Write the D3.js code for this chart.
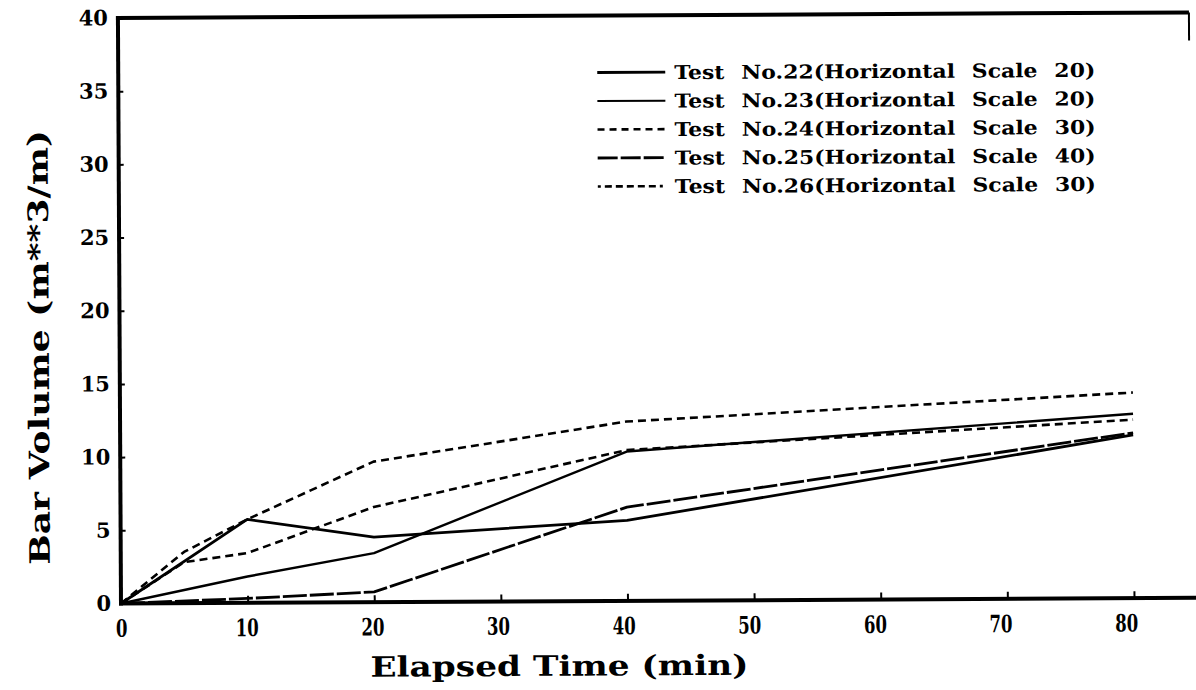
<!DOCTYPE html>
<html>
<head>
<meta charset="utf-8">
<script src="https://cdn.jsdelivr.net/npm/d3@7"></script>
<style>
  html, body { margin: 0; padding: 0; background: #fff; }
  svg { display: block; }
  text { font-family: "DejaVu Serif", serif; font-weight: bold; fill: #000; }
</style>
</head>
<body>
<svg id="chart" width="1196" height="690"></svg>
<script>
// Elapsed time (min) and bar volume (m^3/m) for each test run
const seriesNames = [
  "Test No.22(Horizontal Scale 20)",
  "Test No.23(Horizontal Scale 20)",
  "Test No.24(Horizontal Scale 30)",
  "Test No.25(Horizontal Scale 40)",
  "Test No.26(Horizontal Scale 30)"
];
const time22 = [0, 10, 20, 40, 80];
const vol22  = [0, 5.7, 4.45, 5.5, 11.15];
const time23 = [0, 10, 20, 40, 80];
const vol23  = [0, 1.8, 3.35, 10.2, 12.6];
const time24 = [0, 5, 10, 20, 40, 80];
const vol24  = [0, 3.5, 5.7, 9.6, 12.25, 14.05];
const time25 = [0, 10, 20, 40, 80];
const vol25  = [0, 0.3, 0.7, 6.4, 11.3];
const time26 = [0, 5, 10, 20, 40, 80];
const vol26  = [0, 2.8, 3.4, 6.5, 10.3, 12.2];

const xTicks = [0, 10, 20, 30, 40, 50, 60, 70, 80];
const yTicks = [0, 5, 10, 15, 20, 25, 30, 35, 40];

const svg = d3.select("#chart");

const x = d3.scaleLinear().domain([0, 80]).range([121, 1134]);
const y = d3.scaleLinear().domain([0, 40]).range([603.5, 18]);

// line styles per test: stroke width and dash pattern
const styles = [
  { w: 2.8, dash: null },
  { w: 2.4, dash: null },
  { w: 2.6, dash: "8,5" },
  { w: 2.8, dash: "24,3" },
  { w: 2.6, dash: "8,5" }
];

const series = [
  { t: time22, v: vol22 },
  { t: time23, v: vol23 },
  { t: time24, v: vol24 },
  { t: time25, v: vol25 },
  { t: time26, v: vol26 }
].map((s, i) => ({
  name: seriesNames[i],
  style: styles[i],
  points: s.t.map((t, j) => ({ t, v: s.v[j] }))
}));

// whole plot sits slightly tilted, as printed
const g = svg.append("g")
  .attr("transform", `rotate(-0.3, ${x(0)}, ${y(0)})`);

// frame: top border and short right border
g.append("line")
  .attr("x1", x(0) - 2).attr("x2", 1192)
  .attr("y1", y(40)).attr("y2", y(40))
  .attr("stroke", "#000").attr("stroke-width", 4);
g.append("line")
  .attr("x1", 1192).attr("x2", 1192)
  .attr("y1", y(40)).attr("y2", y(40) + 28)
  .attr("stroke", "#000").attr("stroke-width", 2);

// bottom axis
const xAxis = d3.axisBottom(x)
  .tickValues(xTicks)
  .tickSizeInner(-7)
  .tickSizeOuter(0)
  .tickPadding(16)
  .tickFormat(d3.format("d"));
const gx = g.append("g")
  .attr("transform", `translate(0,${y(0)})`)
  .call(xAxis);
gx.select(".domain").remove();
gx.selectAll(".tick line").attr("stroke", "#000").attr("stroke-width", 2);
gx.selectAll(".tick text")
  .style("font-family", "DejaVu Serif")
  .style("font-weight", "bold")
  .attr("font-size", 24)
  .attr("dy", "0.72em")
  .attr("dx", d => -(d / 80) * 8)
  .attr("textLength", d => String(d).length * 11.5)
  .attr("lengthAdjust", "spacingAndGlyphs");
gx.selectAll(".tick").filter(d => d === 0).select("line").remove();

g.append("line")
  .attr("x1", x(0) - 2).attr("x2", 1200)
  .attr("y1", y(0)).attr("y2", y(0))
  .attr("stroke", "#000").attr("stroke-width", 4);

// left axis
const yAxis = d3.axisLeft(y)
  .tickValues(yTicks)
  .tickSizeInner(-5)
  .tickSizeOuter(0)
  .tickPadding(10)
  .tickFormat(d3.format("d"));
const gy = g.append("g")
  .attr("transform", `translate(${x(0)},0)`)
  .call(yAxis);
gy.select(".domain").remove();
gy.selectAll(".tick line").attr("stroke", "#000").attr("stroke-width", 2);
gy.selectAll(".tick text")
  .style("font-family", "DejaVu Serif")
  .style("font-weight", "bold")
  .attr("font-size", 21);

g.append("line")
  .attr("x1", x(0)).attr("x2", x(0))
  .attr("y1", y(40) - 2).attr("y2", y(0) + 2)
  .attr("stroke", "#000").attr("stroke-width", 4);

// data lines
const line = d3.line().x(d => x(d.t)).y(d => y(d.v));
g.append("g").selectAll("path")
  .data(series)
  .join("path")
  .attr("d", d => line(d.points))
  .attr("fill", "none")
  .attr("stroke", "#000")
  .attr("stroke-width", d => d.style.w)
  .attr("stroke-dasharray", d => d.style.dash)
  .attr("stroke-linejoin", "round");

// legend
const legendStyles = [
  { w: 2.8, dash: null },
  { w: 2.0, dash: null },
  { w: 2.6, dash: "7,5" },
  { w: 2.8, dash: "20,3" },
  { w: 2.6, dash: "3,4,7,4,7,4,7,4,7,4,7,4" }
];
const lg = g.append("g");
const rows = lg.selectAll("g")
  .data(series)
  .join("g")
  .attr("transform", (d, i) => `translate(0,${75 + i * 28.5})`);
rows.append("line")
  .attr("x1", 600).attr("x2", 668)
  .attr("y1", 0).attr("y2", 0)
  .attr("stroke", "#000")
  .attr("stroke-width", (d, i) => legendStyles[i].w)
  .attr("stroke-dasharray", (d, i) => legendStyles[i].dash);
rows.append("text")
  .attr("x", 677).attr("y", 7)
  .attr("font-size", 19)
  .attr("textLength", 421)
  .attr("lengthAdjust", "spacingAndGlyphs")
  .style("word-spacing", "8px")
  .text(d => d.name);

// axis titles
g.append("text")
  .attr("x", 559).attr("y", 678)
  .attr("text-anchor", "middle")
  .attr("font-size", 28)
  .attr("textLength", 378)
  .attr("lengthAdjust", "spacingAndGlyphs")
  .text("Elapsed Time (min)");

g.append("text")
  .attr("transform", "translate(50,347) rotate(-90)")
  .attr("text-anchor", "middle")
  .attr("font-size", 28)
  .attr("textLength", 435)
  .attr("lengthAdjust", "spacingAndGlyphs")
  .text("Bar Volume (m**3/m)");
</script>
</body>
</html>
